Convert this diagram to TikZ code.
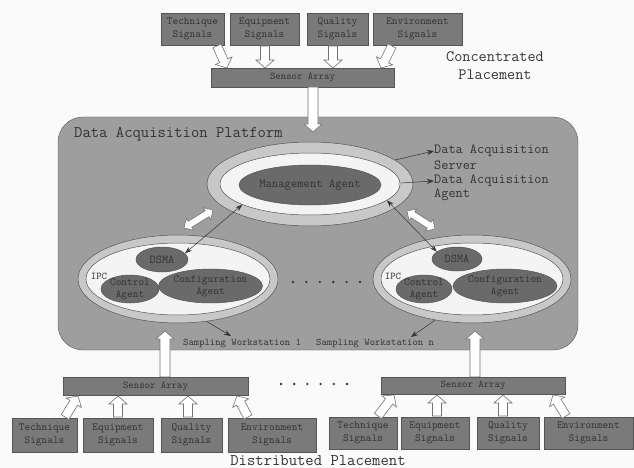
\documentclass[tikz,border=0pt]{standalone}
\usepackage{fontspec}
\newcommand\mono{\ttfamily}
\usetikzlibrary{calc,arrows.meta,shapes.geometric}
\definecolor{bgc}{HTML}{FAFAFA}
\definecolor{platc}{HTML}{9E9E9E}
\definecolor{boxc}{HTML}{7A7A7A}
\definecolor{ellc}{HTML}{6A6A6A}
\definecolor{ringc}{HTML}{C8C8C8}
\definecolor{innerc}{HTML}{F4F4F4}
\definecolor{inkc}{HTML}{333333}
\definecolor{edgec}{HTML}{555555}
\tikzset{
  sigbox/.style={draw=edgec, fill=boxc, text=inkc, inner sep=0pt, align=center, font=\mono\fontsize{10.8}{13}\selectfont},
  sensbox/.style={draw=edgec, fill=boxc, text=inkc, inner sep=0pt, font=\mono\fontsize{10.3}{11}\selectfont},
  blockarrow/.style={draw=black!55, fill=white, line width=0.6pt, line join=miter},
  thinarrow/.style={draw=black!80, line width=0.5pt, {Stealth[length=7pt,width=5pt]}-{Stealth[length=7pt,width=5pt]}},
  onearrow/.style={draw=black!80, line width=0.5pt, -{Stealth[length=7pt,width=5pt]}},
  ell/.style={ellipse, inner sep=0pt, draw=edgec, line width=0.5pt},
  darkell/.style={ell, fill=ellc},
  intext/.style={text=inkc, align=center, font=\mono\fontsize{10.8}{12}\selectfont},
  lbl/.style={text=inkc, inner sep=0pt},
}
% hollow block arrow from #1 to #2, shaft half width #3, head half width #4
\newcommand\hollowarrow[4]{%
  \coordinate (hA) at (#1); \coordinate (hB) at (#2);
  \coordinate (hH) at ($(hB)!8pt!(hA)$);
  \draw[blockarrow] ($(hA)!#3!90:(hB)$) -- ($(hH)!#3!-90:(hA)$) -- ($(hH)!#4!-90:(hA)$) -- (hB)
     -- ($(hH)!#4!90:(hA)$) -- ($(hH)!#3!90:(hA)$) -- ($(hA)!#3!-90:(hB)$) -- cycle;
}
% double headed hollow block arrow
\newcommand\dhollowarrow[4]{%
  \coordinate (hA) at (#1); \coordinate (hB) at (#2);
  \coordinate (hH) at ($(hA)!7pt!(hB)$);
  \coordinate (hK) at ($(hB)!7pt!(hA)$);
  \draw[blockarrow] (hA) -- ($(hH)!#4!90:(hB)$) -- ($(hH)!#3!90:(hB)$) -- ($(hK)!#3!-90:(hA)$)
     -- ($(hK)!#4!-90:(hA)$) -- (hB) -- ($(hK)!#4!90:(hA)$) -- ($(hK)!#3!90:(hA)$)
     -- ($(hH)!#3!-90:(hB)$) -- ($(hH)!#4!-90:(hB)$) -- cycle;
}
\begin{document}
\begin{tikzpicture}[x=1pt,y=-1pt]
\useasboundingbox (0,0) rectangle (634,468);
\fill[bgc] (0,0) rectangle (634,468);

% ---------- top: concentrated placement ----------
\node[sigbox, minimum width=63, minimum height=32] (tt) at (192.5,29) {Technique\\Signals};
\node[sigbox, minimum width=69, minimum height=32] (te) at (264.5,29) {Equipment\\Signals};
\node[sigbox, minimum width=61, minimum height=32] (tq) at (337.5,29) {Quality\\Signals};
\node[sigbox, minimum width=89, minimum height=32] (tv) at (417.5,29) {Environment\\Signals};
\node[sensbox, minimum width=183, minimum height=19] (tsa) at (302.5,77.5) {Sensor Array};
\node[lbl, align=center, font=\mono\fontsize{15.8}{18}\selectfont] (conc) at (495,66) {Concentrated\\Placement};

\coordinate (a1s) at (217,46); \coordinate (a1e) at (227,68);
\coordinate (a2s) at (265,46); \coordinate (a2e) at (265,68);
\coordinate (a3s) at (333,46); \coordinate (a3e) at (333,68);
\coordinate (a4s) at (392,46); \coordinate (a4e) at (381,68);
\hollowarrow{a1s}{a1e}{4.5pt}{9pt}
\hollowarrow{a2s}{a2e}{4.5pt}{9pt}
\hollowarrow{a3s}{a3e}{4.5pt}{9pt}
\hollowarrow{a4s}{a4e}{4.5pt}{9pt}

% ---------- platform ----------
\node[draw=edgec, fill=platc, rounded corners=25pt, minimum width=520, minimum height=233, inner sep=0pt] (plat) at (318,233.5) {};
\node[lbl, anchor=west, font=\mono\fontsize{16.2}{18}\selectfont] (platlab) at (74,134) {Data Acquisition Platform};

\coordinate (ps) at (tsa.south -| 313,0); \coordinate (pe) at (313,132);
\hollowarrow{ps}{pe}{5pt}{9pt}

% management agent ring
\node[ell, fill=ringc, minimum width=206, minimum height=84] (ring1) at (310,184) {};
\node[ell, fill=innerc, minimum width=180, minimum height=62] (inner1) at (310,184) {};
\node[darkell, minimum width=142, minimum height=40, label={[lbl, font=\mono\fontsize{12.3}{14}\selectfont]center:Management Agent}] (mgr) at (310,185) {};

\node[lbl, anchor=west, font=\mono\fontsize{13.9}{16}\selectfont] (das1) at (434,151) {Data Acquisition};
\node[lbl, anchor=west, font=\mono\fontsize{13.9}{16}\selectfont] (das2) at (434,165) {Server};
\node[lbl, anchor=west, font=\mono\fontsize{13.9}{16}\selectfont] (daa1) at (434,181) {Data Acquisition};
\node[lbl, anchor=west, font=\mono\fontsize{13.9}{16}\selectfont] (daa2) at (434,195) {Agent};
\coordinate (r1) at (395,160); \coordinate (r2) at (401,183);
\draw[onearrow] (r1) -- (das1.west);
\draw[onearrow] (r2) -- (daa1.west);

% IPC 1
\node[ell, fill=ringc, minimum width=200, minimum height=88] (ipc1) at (178,279) {};
\node[ell, fill=innerc, minimum width=184, minimum height=72] (ipcin1) at (178,279) {};
\node[darkell, minimum width=52, minimum height=25, label={[intext, font=\mono\fontsize{12}{12}\selectfont]center:DSMA}] (dsma1) at (162,259.5) {};
\node[darkell, minimum width=58, minimum height=28, label={[intext]center:Control\\Agent}] (ctl1) at (130,289) {};
\node[darkell, minimum width=104, minimum height=34, label={[intext]center:Configuration\\Agent}] (cfg1) at (210.5,286) {};
\node[lbl, font=\mono\fontsize{10.3}{10}\selectfont] (ipcl1) at (99,276) {IPC};

% IPC n
\node[ell, fill=ringc, minimum width=198, minimum height=88] (ipc2) at (472,279) {};
\node[ell, fill=innerc, minimum width=182, minimum height=72] (ipcin2) at (472,279) {};
\node[darkell, minimum width=50, minimum height=24, label={[intext, font=\mono\fontsize{12}{12}\selectfont]center:DSMA}] (dsma2) at (457,259) {};
\node[darkell, minimum width=56, minimum height=28, label={[intext]center:Control\\Agent}] (ctl2) at (424,289) {};
\node[darkell, minimum width=104, minimum height=34, label={[intext]center:Configuration\\Agent}] (cfg2) at (505,286) {};
\node[lbl, font=\mono\fontsize{10.3}{10}\selectfont] (ipcl2) at (393,276) {IPC};

% dots
\foreach \i in {0,...,5} \fill[black!80] (293+\i*13.4,282) circle (1.3);

% double block arrows
\coordinate (d1a) at (184,228); \coordinate (d1b) at (213,210);
\coordinate (d2a) at (407,211); \coordinate (d2b) at (435,229);
\dhollowarrow{d1a}{d1b}{3.5pt}{7pt}
\dhollowarrow{d2a}{d2b}{3.5pt}{7pt}

% thin double arrows
\draw[thinarrow] (dsma1.15) -- (inner1.197);
\draw[thinarrow] (inner1.-12) -- (dsma2.160);

% workstation labels
\node[lbl, anchor=west, font=\mono\fontsize{10.2}{10}\selectfont] (sw1) at (183,343) {Sampling Workstation 1};
\node[lbl, anchor=west, font=\mono\fontsize{10.2}{10}\selectfont] (swn) at (316,343) {Sampling Workstation n};
\coordinate (w1) at (231,336); \coordinate (w2) at (411,337);
\draw[onearrow] (ipc1.-56) -- (w1);
\draw[onearrow] (ipc2.-132) -- (w2);

% ---------- bottom: distributed placement ----------
\node[sensbox, minimum width=185, minimum height=18] (sa1) at (155.5,386) {Sensor Array};
\node[sensbox, minimum width=184, minimum height=17] (sa2) at (473,385.5) {Sensor Array};
\foreach \i in {0,...,5} \fill[black!80] (281+\i*13.2,384) circle (1.3);

\coordinate (u1s) at (sa1.north -| 165,0); \coordinate (u1e) at (165,331);
\coordinate (u2s) at (sa2.north -| 475,0); \coordinate (u2e) at (475,331);
\hollowarrow{u1s}{u1e}{5pt}{9pt}
\hollowarrow{u2s}{u2e}{5pt}{9pt}

\node[sigbox, minimum width=65, minimum height=34] (bt1) at (44.5,435) {Technique\\Signals};
\node[sigbox, minimum width=70, minimum height=34] (be1) at (118,435) {Equipment\\Signals};
\node[sigbox, minimum width=61, minimum height=34] (bq1) at (191.5,435) {Quality\\Signals};
\node[sigbox, minimum width=88, minimum height=34] (bv1) at (272,435) {Environment\\Signals};
\node[sigbox, minimum width=68, minimum height=32] (bt2) at (363,433) {Technique\\Signals};
\node[sigbox, minimum width=68, minimum height=32] (be2) at (435,433) {Equipment\\Signals};
\node[sigbox, minimum width=62, minimum height=32] (bq2) at (508,433) {Quality\\Signals};
\node[sigbox, minimum width=89, minimum height=32] (bv2) at (588.5,433) {Environment\\Signals};

\coordinate (b1s) at (65,417); \coordinate (b1e) at (78,396);
\coordinate (b2s) at (118,417); \coordinate (b2e) at (118,396);
\coordinate (b3s) at (188,417); \coordinate (b3e) at (188,396);
\coordinate (b4s) at (248,417); \coordinate (b4e) at (237,396);
\coordinate (b5s) at (378,416); \coordinate (b5e) at (394,395);
\coordinate (b6s) at (437,416); \coordinate (b6e) at (437,395);
\coordinate (b7s) at (503,416); \coordinate (b7e) at (503,395);
\coordinate (b8s) at (566,416); \coordinate (b8e) at (553,395);
\foreach \s/\e in {b1s/b1e,b2s/b2e,b3s/b3e,b4s/b4e,b5s/b5e,b6s/b6e,b7s/b7e,b8s/b8e}{\hollowarrow{\s}{\e}{4.5pt}{9pt}}

\node[lbl, font=\mono\fontsize{16.2}{18}\selectfont] (dist) at (318,461) {Distributed Placement};
\end{tikzpicture}
\end{document}
